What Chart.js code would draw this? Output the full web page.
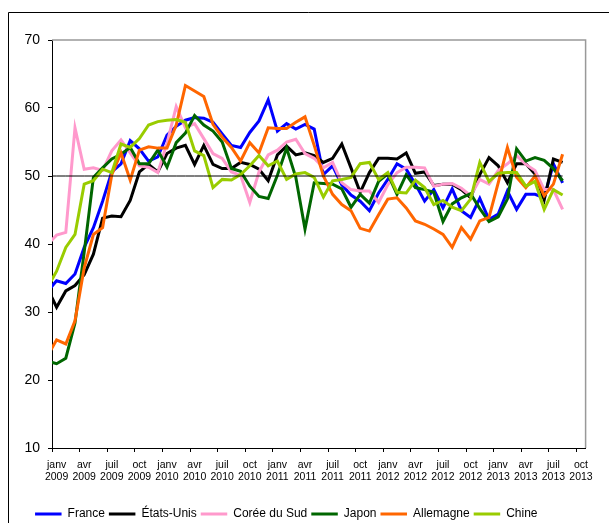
<!DOCTYPE html>
<html lang="fr">
<head>
<meta charset="utf-8">
<title>Indices par pays 2009-2013</title>
<script src="https://cdn.jsdelivr.net/npm/chart.js@4.4.1/dist/chart.umd.min.js"></script>
<style>
  html, body { margin: 0; padding: 0; background: #fff; }
  #wrap { width: 609px; height: 523px; }
</style>
</head>
<body>
<div id="wrap"><canvas id="chart" width="609" height="523"></canvas></div>
<script>
// Months from déc 2008 (only partly visible at the left edge) to août 2013
const moisNoms = ['janv', 'févr', 'mars', 'avr', 'mai', 'juin', 'juil', 'août', 'sept', 'oct', 'nov', 'déc'];
const categories = ['déc 2008'];
for (let y = 2009; y <= 2013; y++) {
    for (let m = 0; m < 12; m++) {
        if (y === 2013 && m > 7) break;
        categories.push(moisNoms[m] + ' ' + y);
    }
}

// Tick labels, one every three months
const tickLabels = [
    ['janv', '2009'], ['avr', '2009'], ['juil', '2009'], ['oct', '2009'],
    ['janv', '2010'], ['avr', '2010'], ['juil', '2010'], ['oct', '2010'],
    ['janv', '2011'], ['avr', '2011'], ['juil', '2011'], ['oct', '2011'],
    ['janv', '2012'], ['avr', '2012'], ['juil', '2012'], ['oct', '2012'],
    ['janv', '2013'], ['avr', '2013'], ['juil', '2013'], ['oct', '2013']
];

const france = [33.0,
    34.6, 34.2, 35.6, 39.5, 42.4, 46.3, 50.6, 51.8, 55.2, 54.0, 52.2, 52.8,
    56.0, 57.3, 58.2, 58.6, 58.5, 57.9, 56.2, 54.5, 54.2, 56.4, 58.1, 61.2,
    56.6, 57.7, 56.9, 57.6, 56.9, 50.2, 51.5, 48.7, 47.2, 46.3, 44.9, 47.5,
    49.5, 51.8, 51.0, 48.8, 46.3, 48.0, 45.3, 48.1, 44.9, 43.9, 46.7, 43.6,
    44.4, 47.8, 45.1, 47.3, 47.3, 46.8, 51.8, 49.0];

const etatsUnis = [33.5,
    30.7, 33.1, 33.9, 35.5, 38.5, 43.8, 44.1, 44.0, 46.4, 50.6, 51.7, 50.6,
    53.3, 54.1, 54.5, 51.7, 54.5, 51.7, 51.1, 51.1, 52.0, 51.7, 51.0, 49.3,
    53.1, 54.4, 53.1, 53.4, 53.0, 52.0, 52.6, 54.7, 51.2, 47.6, 50.5, 52.6,
    52.6, 52.5, 53.4, 50.4, 50.6, 48.6, 48.8, 48.8, 48.0, 46.8, 50.2, 52.7,
    51.5, 49.0, 51.8, 51.8, 50.3, 46.5, 52.5, 52.0];

const coreeDuSud = [39.9,
    41.3, 41.7, 57.1, 51.0, 51.2, 50.8, 53.7, 55.3, 53.4, 51.5, 51.3, 50.5,
    54.8, 60.2, 57.1, 57.7, 55.5, 53.3, 52.6, 50.6, 50.1, 46.1, 50.6, 53.1,
    53.8, 55.0, 55.4, 53.3, 52.6, 51.2, 52.0, 49.0, 48.0, 47.8, 47.8, 46.1,
    48.7, 50.5, 51.3, 51.3, 51.2, 48.5, 48.8, 48.9, 48.2, 47.1, 49.5, 48.8,
    50.8, 51.8, 53.0, 51.7, 50.8, 48.0, 48.0, 45.1];

const japon = [22.8,
    22.4, 23.2, 28.4, 38.8, 49.8, 51.2, 52.5, 53.2, 54.2, 51.8, 51.8, 53.8,
    51.3, 54.9, 56.3, 58.9, 57.5, 56.6, 55.0, 51.1, 50.7, 48.5, 47.0, 46.7,
    50.1, 54.1, 49.8, 42.2, 49.0, 48.9, 48.8, 48.1, 45.4, 47.3, 46.0, 49.2,
    50.3, 47.3, 50.2, 48.3, 48.0, 47.6, 43.3, 45.9, 46.8, 47.4, 45.2, 43.3,
    44.0, 46.6, 54.0, 52.2, 52.7, 52.3, 51.1, 49.3];

const allemagne = [23.5,
    25.9, 25.3, 28.7, 36.5, 41.4, 42.4, 50.2, 53.4, 49.4, 53.8, 54.3, 54.1,
    54.1, 57.5, 63.3, 62.5, 61.7, 57.6, 55.7, 54.2, 52.2, 54.9, 53.4, 57.1,
    57.0, 57.0, 57.9, 58.7, 54.5, 50.0, 47.3, 45.8, 44.9, 42.3, 41.9, 44.3,
    46.6, 46.8, 45.3, 43.4, 42.9, 42.2, 41.4, 39.5, 42.4, 40.7, 43.4, 43.9,
    49.0, 54.2, 49.8, 48.3, 50.0, 47.1, 48.8, 53.2];

const chine = [33.6,
    36.0, 39.5, 41.4, 48.8, 49.3, 51.0, 50.5, 54.7, 54.2, 55.5, 57.5, 58.0,
    58.2, 58.3, 57.9, 53.7, 53.0, 48.3, 49.5, 49.4, 50.2, 51.5, 53.0, 51.5,
    52.2, 49.5, 50.3, 50.5, 49.8, 46.9, 49.3, 49.5, 49.8, 51.8, 52.0, 49.5,
    50.5, 47.6, 47.5, 49.4, 48.3, 45.8, 46.4, 45.4, 44.9, 46.6, 52.0, 49.2,
    50.4, 50.5, 50.5, 48.5, 49.2, 45.1, 48.0, 47.2];

const seuil = categories.map(() => 50);

// Each month is plotted in the middle of its slot; janv 2009 starts at 0
const toPoints = values => values.map((v, i) => ({ x: i - 0.5, y: v }));

const series = [
    { label: 'France', data: france, color: '#0000ff' },
    { label: 'États-Unis', data: etatsUnis, color: '#000000' },
    { label: 'Corée du Sud', data: coreeDuSud, color: '#ff99cc' },
    { label: 'Japon', data: japon, color: '#006600' },
    { label: 'Allemagne', data: allemagne, color: '#ff6600' },
    { label: 'Chine', data: chine, color: '#99cc00' }
];

const datasets = series.map((s, i) => ({
    label: s.label,
    data: toPoints(s.data),
    borderColor: s.color,
    backgroundColor: s.color,
    borderWidth: 3,
    order: series.length - i
}));

datasets.push({
    label: '50',
    data: toPoints(seuil),
    borderColor: '#000',
    backgroundColor: '#000',
    borderWidth: 1,
    order: 0,
    hideInLegend: true
});

// Outer frame and grey plot-area border
const frame = {
    id: 'frame',
    beforeDraw(chart) {
        const c = chart.ctx;
        c.save();
        c.strokeStyle = '#000';
        c.lineWidth = 1;
        c.beginPath();
        c.moveTo(8.5, chart.height);
        c.lineTo(8.5, 12.5);
        c.lineTo(chart.width, 12.5);
        c.stroke();
        c.restore();
    },
    beforeDatasetsDraw(chart) {
        const { top, right, bottom, left } = chart.chartArea;
        const c = chart.ctx;
        c.save();
        c.strokeStyle = '#999';
        c.lineWidth = 1.5;
        c.beginPath();
        c.moveTo(left, top);
        c.lineTo(right, top);
        c.lineTo(right, bottom);
        c.stroke();
        c.restore();
    }
};

Chart.defaults.font.family = "'Liberation Sans', Arial, sans-serif";
Chart.defaults.color = '#000';

const chartCanvas = document.getElementById('chart');
const myChart = new Chart(chartCanvas, {
    type: 'line',
    data: { datasets: datasets },
    options: {
        responsive: false,
        animation: false,
        layout: { padding: { left: -13, right: 23.4, top: 40, bottom: -7 } },
        elements: {
            point: { radius: 0 },
            line: { tension: 0 }
        },
        scales: {
            x: {
                type: 'linear',
                min: 0,
                max: 58,
                afterBuildTicks: scale => {
                    scale.ticks = tickLabels.map((t, i) => ({ value: i * 3 }));
                },
                afterFit: scale => { scale.height = 56; },
                grid: { drawOnChartArea: false, tickLength: 4, color: '#000' },
                border: { color: '#000', width: 1 },
                ticks: {
                    autoSkip: false,
                    maxRotation: 0,
                    padding: 7,
                    labelOffset: 4.6,
                    font: { size: 10.5, lineHeight: 1.15 },
                    callback: (value, index) => tickLabels[index]
                }
            },
            y: {
                min: 10,
                max: 70,
                afterFit: scale => { scale.width = 65; },
                grid: { drawOnChartArea: false, tickLength: 4, color: '#000' },
                border: { color: '#000', width: 1 },
                ticks: { stepSize: 10, padding: 8, font: { size: 14 } }
            }
        },
        plugins: {
            legend: {
                position: 'bottom',
                labels: {
                    boxWidth: 26.5,
                    boxHeight: 3,
                    padding: 4,
                    font: { size: 12 },
                    filter: (item, data) => !data.datasets[item.datasetIndex].hideInLegend,
                    sort: (a, b) => a.datasetIndex - b.datasetIndex,
                    generateLabels: chart => Chart.defaults.plugins.legend.labels.generateLabels(chart)
                        .map(item => Object.assign(item, { lineWidth: 0 }))
                }
            },
            tooltip: { enabled: false }
        }
    },
    plugins: [frame]
});
</script>
</body>
</html>
